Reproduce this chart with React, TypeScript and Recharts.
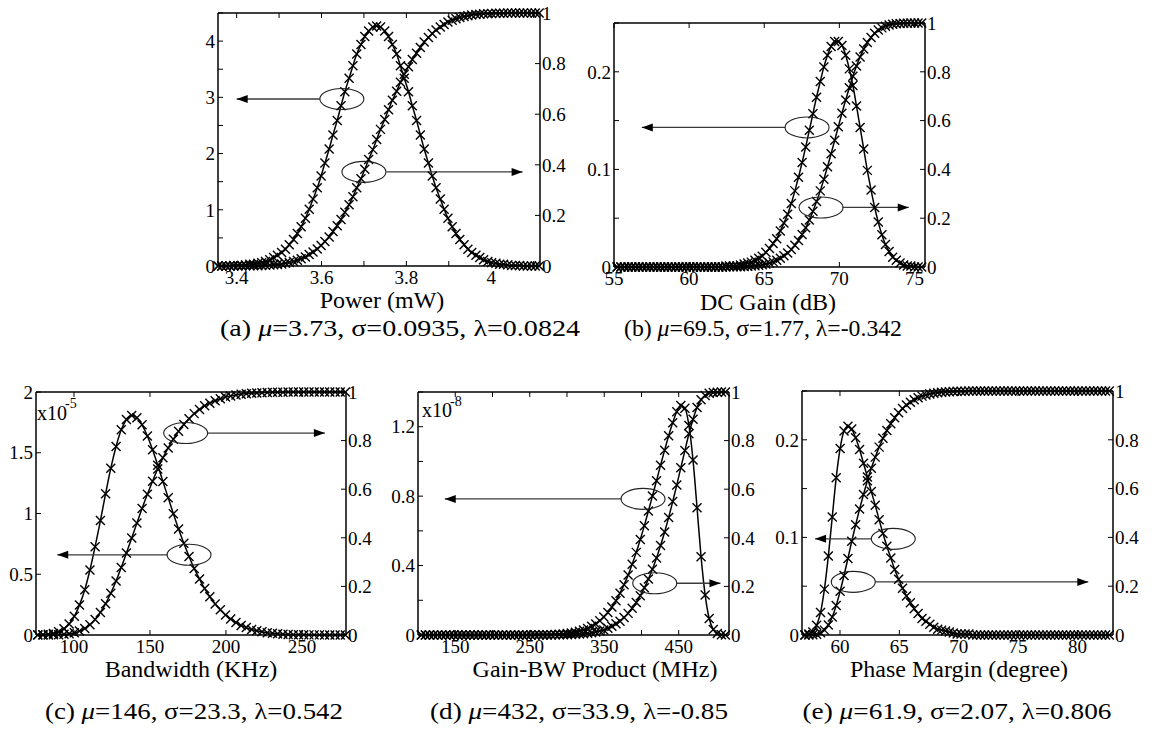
import React from 'react';
import { LineChart, Line, XAxis, YAxis, ReferenceDot, ReferenceLine } from 'recharts';

const FONT = '"Liberation Serif", "Times New Roman", serif';

// ---------- (a) Power ----------
const powerX = [
  3.356, 3.365, 3.375, 3.384, 3.393, 3.403, 3.412, 3.421, 3.431, 3.44,
  3.45, 3.459, 3.468, 3.478, 3.487, 3.496, 3.506, 3.515, 3.524, 3.534,
  3.543, 3.552, 3.562, 3.571, 3.58, 3.59, 3.599, 3.608, 3.618, 3.627,
  3.637, 3.646, 3.655, 3.665, 3.674, 3.683, 3.693, 3.702, 3.711, 3.721,
  3.73, 3.739, 3.749, 3.758, 3.767, 3.777, 3.786, 3.795, 3.805, 3.814,
  3.824, 3.833, 3.842, 3.852, 3.861, 3.87, 3.88, 3.889, 3.898, 3.908,
  3.917, 3.926, 3.936, 3.945, 3.954, 3.964, 3.973, 3.982, 3.992, 4.001,
  4.011, 4.02, 4.029, 4.039, 4.048, 4.057, 4.067, 4.076, 4.085, 4.095,
  4.104, 4.113,
];
const powerPdf = [
  0, 0, 0, 0, 0.01, 0.01, 0.01, 0.02, 0.03, 0.03,
  0.05, 0.06, 0.08, 0.11, 0.15, 0.19, 0.24, 0.3, 0.38, 0.47,
  0.58, 0.7, 0.85, 1.01, 1.19, 1.39, 1.6, 1.83, 2.08, 2.33,
  2.59, 2.85, 3.1, 3.34, 3.56, 3.77, 3.94, 4.08, 4.18, 4.25,
  4.27, 4.25, 4.18, 4.08, 3.94, 3.77, 3.56, 3.34, 3.1, 2.85,
  2.59, 2.33, 2.08, 1.83, 1.6, 1.39, 1.19, 1.01, 0.85, 0.7,
  0.58, 0.47, 0.38, 0.3, 0.24, 0.19, 0.15, 0.11, 0.08, 0.06,
  0.05, 0.03, 0.03, 0.02, 0.01, 0.01, 0.01, 0, 0, 0,
  0, 0,
];
const powerCdf = [
  0, 0, 0, 0, 0, 0, 0, 0.001, 0.001, 0.001,
  0.001, 0.002, 0.003, 0.004, 0.005, 0.006, 0.008, 0.011, 0.014, 0.018,
  0.023, 0.029, 0.036, 0.045, 0.055, 0.067, 0.081, 0.097, 0.115, 0.136,
  0.159, 0.184, 0.212, 0.242, 0.274, 0.309, 0.345, 0.382, 0.421, 0.46,
  0.5, 0.54, 0.579, 0.618, 0.655, 0.691, 0.726, 0.758, 0.788, 0.816,
  0.841, 0.864, 0.885, 0.903, 0.919, 0.933, 0.945, 0.955, 0.964, 0.971,
  0.977, 0.982, 0.986, 0.989, 0.992, 0.994, 0.995, 0.997, 0.997, 0.998,
  0.999, 0.999, 0.999, 1, 1, 1, 1, 1, 1, 1,
  1, 1,
];

// ---------- (b) DC Gain ----------
const gainX = [
  55.21, 55.46, 55.7, 55.94, 56.18, 56.42, 56.66, 56.9, 57.15, 57.39,
  57.63, 57.87, 58.11, 58.35, 58.59, 58.83, 59.08, 59.32, 59.56, 59.8,
  60.04, 60.28, 60.52, 60.76, 61.01, 61.25, 61.49, 61.73, 61.97, 62.21,
  62.45, 62.69, 62.94, 63.18, 63.42, 63.66, 63.9, 64.14, 64.38, 64.63,
  64.87, 65.11, 65.35, 65.59, 65.83, 66.07, 66.31, 66.56, 66.8, 67.04,
  67.28, 67.52, 67.76, 68.0, 68.24, 68.48, 68.73, 68.97, 69.21, 69.45,
  69.69, 69.93, 70.17, 70.42, 70.66, 70.9, 71.14, 71.38, 71.62, 71.86,
  72.11, 72.35, 72.59, 72.83, 73.07, 73.31, 73.55, 73.79, 74.04, 74.28,
  74.52, 74.76, 75.0, 75.24, 75.48,
];
const gainPdf = [
  0, 0, 0, 0, 0, 0, 0, 0, 0, 0,
  0, 0, 0, 0, 0, 0, 0, 0, 0, 0,
  0, 0, 0, 0, 0, 0, 0, 0, 0, 0,
  0.001, 0.001, 0.001, 0.001, 0.002, 0.003, 0.004, 0.005, 0.007, 0.009,
  0.011, 0.015, 0.019, 0.024, 0.029, 0.037, 0.045, 0.054, 0.065, 0.078,
  0.092, 0.107, 0.123, 0.14, 0.157, 0.174, 0.19, 0.205, 0.217, 0.226,
  0.231, 0.231, 0.227, 0.217, 0.203, 0.186, 0.165, 0.143, 0.121, 0.099,
  0.079, 0.061, 0.046, 0.033, 0.023, 0.016, 0.01, 0.007, 0.004, 0.002,
  0.001, 0.001, 0, 0, 0,
];
const gainCdf = [
  0, 0, 0, 0, 0, 0, 0, 0, 0, 0,
  0, 0, 0, 0, 0, 0, 0, 0, 0, 0,
  0, 0, 0, 0, 0, 0, 0, 0, 0, 0,
  0, 0.001, 0.001, 0.001, 0.001, 0.002, 0.003, 0.004, 0.005, 0.007,
  0.009, 0.012, 0.016, 0.021, 0.028, 0.036, 0.046, 0.057, 0.072, 0.089,
  0.109, 0.133, 0.161, 0.193, 0.228, 0.268, 0.312, 0.36, 0.411, 0.464,
  0.519, 0.575, 0.63, 0.684, 0.735, 0.782, 0.824, 0.861, 0.893, 0.92,
  0.941, 0.958, 0.971, 0.98, 0.987, 0.992, 0.995, 0.997, 0.998, 0.999,
  0.999, 1, 1, 1, 1,
];

// ---------- (c) Bandwidth ----------
const bwX = [
  76.2, 79.6, 83.1, 86.5, 89.9, 93.4, 96.8, 100.2, 103.6, 107.1,
  110.5, 113.9, 117.4, 120.8, 124.2, 127.7, 131.1, 134.5, 138.0, 141.4,
  144.8, 148.3, 151.7, 155.1, 158.5, 162.0, 165.4, 168.8, 172.3, 175.7,
  179.1, 182.6, 186.0, 189.4, 192.9, 196.3, 199.7, 203.1, 206.6, 210.0,
  213.4, 216.9, 220.3, 223.7, 227.2, 230.6, 234.0, 237.5, 240.9, 244.3,
  247.8, 251.2, 254.6, 258.0, 261.5, 264.9, 268.3, 271.8, 275.2, 278.6,
];
const bwPdf = [
  0.001, 0.003, 0.006, 0.013, 0.027, 0.051, 0.091, 0.154, 0.246, 0.373,
  0.535, 0.727, 0.942, 1.163, 1.372, 1.552, 1.689, 1.774, 1.806, 1.788,
  1.73, 1.638, 1.524, 1.398, 1.264, 1.129, 0.998, 0.872, 0.755, 0.646,
  0.548, 0.461, 0.382, 0.315, 0.256, 0.207, 0.165, 0.131, 0.102, 0.079,
  0.061, 0.046, 0.035, 0.026, 0.019, 0.014, 0.01, 0.007, 0.005, 0.003,
  0.002, 0.002, 0.001, 0.001, 0.001, 0, 0, 0, 0, 0,
];
const bwCdf = [
  0, 0, 0, 0.001, 0.001, 0.003, 0.005, 0.009, 0.016, 0.027,
  0.042, 0.064, 0.093, 0.129, 0.172, 0.222, 0.278, 0.337, 0.399, 0.461,
  0.521, 0.579, 0.633, 0.683, 0.729, 0.77, 0.806, 0.838, 0.866, 0.89,
  0.911, 0.928, 0.943, 0.954, 0.964, 0.972, 0.979, 0.984, 0.988, 0.991,
  0.993, 0.995, 0.996, 0.997, 0.998, 0.999, 0.999, 0.999, 1, 1,
  1, 1, 1, 1, 1, 1, 1, 1, 1, 1,
];

// ---------- (d) Gain-BW product ----------
const gbwX = [
  104.5, 110.0, 115.4, 120.9, 126.3, 131.8, 137.2, 142.6, 148.1, 153.5,
  159.0, 164.4, 169.9, 175.3, 180.7, 186.2, 191.6, 197.1, 202.5, 207.9,
  213.4, 218.8, 224.3, 229.7, 235.2, 240.6, 246.0, 251.5, 256.9, 262.4,
  267.8, 273.2, 278.7, 284.1, 289.6, 295.0, 300.5, 305.9, 311.3, 316.8,
  322.2, 327.7, 333.1, 338.6, 344.0, 349.4, 354.9, 360.3, 365.8, 371.2,
  376.6, 382.1, 387.5, 393.0, 398.4, 403.9, 409.3, 414.7, 420.2, 425.6,
  431.1, 436.5, 441.9, 447.4, 452.8, 458.3, 463.7, 469.2, 474.6, 480.0,
  485.5, 490.9, 496.4, 501.8, 507.3, 512.7,
];
const gbwPdf = [
  0, 0, 0, 0, 0, 0, 0, 0, 0, 0,
  0, 0, 0, 0, 0, 0, 0, 0, 0, 0,
  0, 0, 0, 0, 0, 0, 0, 0, 0.001, 0.001,
  0.001, 0.001, 0.002, 0.003, 0.004, 0.006, 0.009, 0.012, 0.016, 0.022,
  0.029, 0.038, 0.05, 0.064, 0.082, 0.104, 0.13, 0.162, 0.198, 0.241,
  0.29, 0.345, 0.408, 0.476, 0.55, 0.63, 0.714, 0.801, 0.889, 0.978,
  1.065, 1.148, 1.223, 1.286, 1.322, 1.307, 1.207, 1.008, 0.733, 0.451,
  0.23, 0.095, 0.031, 0.008, 0.002, 0,
];
const gbwCdf = [
  0, 0, 0, 0, 0, 0, 0, 0, 0, 0,
  0, 0, 0, 0, 0, 0, 0, 0, 0, 0,
  0, 0, 0, 0, 0, 0, 0, 0, 0, 0,
  0, 0, 0, 0.001, 0.001, 0.001, 0.001, 0.002, 0.003, 0.004,
  0.005, 0.007, 0.009, 0.012, 0.016, 0.021, 0.028, 0.036, 0.046, 0.057,
  0.072, 0.089, 0.11, 0.134, 0.162, 0.194, 0.23, 0.271, 0.317, 0.368,
  0.424, 0.484, 0.549, 0.617, 0.688, 0.759, 0.828, 0.888, 0.936, 0.968,
  0.986, 0.995, 0.998, 0.999, 1, 1,
];

// ---------- (e) Phase margin ----------
const pmX = [
  57.05, 57.38, 57.71, 58.03, 58.36, 58.69, 59.02, 59.35, 59.68, 60.01,
  60.34, 60.67, 60.99, 61.32, 61.65, 61.98, 62.31, 62.64, 62.97, 63.3,
  63.62, 63.95, 64.28, 64.61, 64.94, 65.27, 65.6, 65.93, 66.25, 66.58,
  66.91, 67.24, 67.57, 67.9, 68.23, 68.56, 68.89, 69.21, 69.54, 69.87,
  70.2, 70.53, 70.86, 71.19, 71.52, 71.84, 72.17, 72.5, 72.83, 73.16,
  73.49, 73.82, 74.15, 74.47, 74.8, 75.13, 75.46, 75.79, 76.12, 76.45,
  76.78, 77.1, 77.43, 77.76, 78.09, 78.42, 78.75, 79.08, 79.41, 79.74,
  80.06, 80.39, 80.72, 81.05, 81.38, 81.71, 82.04, 82.37, 82.69,
];
const pmPdf = [
  0, 0.001, 0.003, 0.01, 0.023, 0.047, 0.081, 0.121, 0.161, 0.191,
  0.209, 0.214, 0.211, 0.202, 0.19, 0.176, 0.162, 0.147, 0.133, 0.118,
  0.104, 0.091, 0.079, 0.067, 0.057, 0.048, 0.04, 0.033, 0.027, 0.022,
  0.017, 0.014, 0.011, 0.008, 0.006, 0.005, 0.004, 0.003, 0.002, 0.001,
  0.001, 0.001, 0.001, 0, 0, 0, 0, 0, 0, 0,
  0, 0, 0, 0, 0, 0, 0, 0, 0, 0,
  0, 0, 0, 0, 0, 0, 0, 0, 0, 0,
  0, 0, 0, 0, 0, 0, 0, 0, 0,
];
const pmCdf = [
  0, 0, 0.001, 0.003, 0.009, 0.02, 0.041, 0.074, 0.121, 0.179,
  0.244, 0.314, 0.384, 0.452, 0.516, 0.576, 0.632, 0.683, 0.729, 0.77,
  0.806, 0.838, 0.866, 0.89, 0.911, 0.928, 0.943, 0.954, 0.964, 0.972,
  0.979, 0.984, 0.988, 0.991, 0.993, 0.995, 0.996, 0.997, 0.998, 0.999,
  0.999, 0.999, 1, 1, 1, 1, 1, 1, 1, 1,
  1, 1, 1, 1, 1, 1, 1, 1, 1, 1,
  1, 1, 1, 1, 1, 1, 1, 1, 1, 1,
  1, 1, 1, 1, 1, 1, 1, 1, 1,
];

// ---------- axis ticks ----------
const cdfTicks = [0, 0.2, 0.4, 0.6, 0.8, 1];

const powerTicks = [3.4, 3.5, 3.6, 3.7, 3.8, 3.9, 4.0, 4.1];
const powerTickLabels = [3.4, 3.6, 3.8, 4];
const powerPdfTicks = [0, 0.5, 1, 1.5, 2, 2.5, 3, 3.5, 4, 4.5];
const powerPdfLabels = [0, 1, 2, 3, 4];

const gainTicks = [55, 60, 65, 70, 75];
const gainPdfTicks = [0, 0.05, 0.1, 0.15, 0.2, 0.25];
const gainPdfLabels = [0, 0.1, 0.2];

const bwTicks = [100, 150, 200, 250];
const bwPdfTicks = [0, 0.5, 1, 1.5, 2];

const gbwTicks = [150, 200, 250, 300, 350, 400, 450, 500];
const gbwTickLabels = [150, 250, 350, 450];
const gbwPdfTicks = [0, 0.2, 0.4, 0.6, 0.8, 1, 1.2, 1.4];
const gbwPdfLabels = [0, 0.4, 0.8, 1.2];

const pmTicks = [60, 65, 70, 75, 80];
const pmPdfTicks = [0, 0.05, 0.1, 0.15, 0.2, 0.25];
const pmPdfLabels = [0, 0.1, 0.2];

// Callouts: ellipse centre (cx, cy) and an arrow from `from` to `to` pointing at the owning axis
type Callout = { cx: number; cy: number; from: number; to: number; axis: 'l' | 'r' };

const powerNotes: Callout[] = [
  { cx: 3.648, cy: 2.97, from: 3.596, to: 3.4, axis: 'l' },
  { cx: 3.7, cy: 0.372, from: 3.753, to: 4.074, axis: 'r' },
];
const gainNotes: Callout[] = [
  { cx: 67.85, cy: 0.143, from: 66.4, to: 56.85, axis: 'l' },
  { cx: 68.78, cy: 0.244, from: 70.22, to: 74.62, axis: 'r' },
];
const bwNotes: Callout[] = [
  { cx: 175.7, cy: 0.66, from: 161.6, to: 89.0, axis: 'l' },
  { cx: 173.5, cy: 0.831, from: 187.7, to: 265.1, axis: 'r' },
];
const gbwNotes: Callout[] = [
  { cx: 402.1, cy: 0.784, from: 373.1, to: 135.9, axis: 'l' },
  { cx: 417.8, cy: 0.213, from: 446.9, to: 506, axis: 'r' },
];
const pmNotes: Callout[] = [
  { cx: 64.49, cy: 0.0985, from: 62.67, to: 57.9, axis: 'l' },
  { cx: 61.12, cy: 0.2176, from: 62.95, to: 80.92, axis: 'r' },
];

const toRows = (xs: number[], pdf: number[], cdf: number[]) =>
  xs.map((x, i) => ({ x, pdf: pdf[i], cdf: cdf[i] }));

const only = (shown: number[] | null) => (v: number) =>
  shown === null || shown.includes(v) ? String(v) : '';

const crossDot = (p: any) => {
  const { cx, cy, index } = p;
  if (cx == null || cy == null) return <g key={`n${index}`} />;
  const s = 4.5;
  return (
    <path
      key={`c${index}`}
      d={`M${cx - s},${cy - s}L${cx + s},${cy + s}M${cx - s},${cy + s}L${cx + s},${cy - s}`}
      stroke="#000"
      strokeWidth={1.4}
      fill="none"
    />
  );
};

const tickText = { fontSize: 19, fontFamily: FONT, fill: '#000' };
const axisLine = { stroke: '#000', strokeWidth: 1.5 };
const tickLine = { stroke: '#000', strokeWidth: 1 };

type Box = { L: number; R: number; T: number; B: number };

type PanelProps = {
  box: Box;
  rows: { x: number; pdf: number; cdf: number }[];
  xDomain: [number, number];
  xTicks: number[];
  xLabels: number[] | null;
  yDomain: [number, number];
  yTicks: number[];
  yLabels: number[] | null;
  notes: Callout[];
};

function Panel({ box, rows, xDomain, xTicks, xLabels, yDomain, yTicks, yLabels, notes }: PanelProps) {
  const w = box.R - box.L + 120;
  const h = box.B - box.T + 50;
  const marks = notes.flatMap((n, i) => {
    const dir = n.to < n.from ? 1 : -1;
    return [
      <ReferenceLine
        key={`s${i}`}
        xAxisId="b"
        yAxisId={n.axis}
        segment={[{ x: n.from, y: n.cy }, { x: n.to, y: n.cy }]}
        stroke="#3a3a3a"
        strokeWidth={1.3}
        ifOverflow="visible"
      />,
      <ReferenceDot
        key={`e${i}`}
        xAxisId="b"
        yAxisId={n.axis}
        x={n.cx}
        y={n.cy}
        r={1}
        ifOverflow="visible"
        shape={(p: any) => (
          <ellipse cx={p.cx} cy={p.cy} rx={22} ry={10.5} fill="none" stroke="#222" strokeWidth={1.1} />
        )}
      />,
      <ReferenceDot
        key={`h${i}`}
        xAxisId="b"
        yAxisId={n.axis}
        x={n.to}
        y={n.cy}
        r={1}
        ifOverflow="visible"
        shape={(p: any) => (
          <polygon
            points={`${p.cx},${p.cy} ${p.cx + dir * 11},${p.cy - 4} ${p.cx + dir * 11},${p.cy + 4}`}
            fill="#000"
          />
        )}
      />,
    ];
  });

  return (
    <div style={{ position: 'absolute', left: box.L - 60, top: box.T - 10, width: w, height: h }}>
      <LineChart width={w} height={h} data={rows} margin={{ top: 0, right: 0, bottom: 0, left: 0 }}>
        <XAxis
          xAxisId="b"
          dataKey="x"
          type="number"
          domain={xDomain}
          ticks={xTicks}
          interval={0}
          tickFormatter={only(xLabels)}
          height={40}
          tickSize={-5}
          tickMargin={10}
          tick={tickText}
          axisLine={axisLine}
          tickLine={tickLine}
        />
        <XAxis
          xAxisId="t"
          orientation="top"
          dataKey="x"
          type="number"
          domain={xDomain}
          ticks={xTicks}
          interval={0}
          tickFormatter={() => ''}
          height={10}
          tickSize={-5}
          tick={tickText}
          axisLine={axisLine}
          tickLine={tickLine}
        />
        <YAxis
          yAxisId="l"
          type="number"
          domain={yDomain}
          ticks={yTicks}
          interval={0}
          tickFormatter={only(yLabels)}
          width={60}
          tickSize={-5}
          tickMargin={8}
          tick={tickText}
          axisLine={axisLine}
          tickLine={tickLine}
        />
        <YAxis
          yAxisId="r"
          orientation="right"
          type="number"
          domain={[0, 1]}
          ticks={cdfTicks}
          interval={0}
          tickFormatter={only(null)}
          width={60}
          tickSize={-5}
          tickMargin={7}
          tick={tickText}
          axisLine={axisLine}
          tickLine={tickLine}
        />
        <Line
          xAxisId="b"
          yAxisId="l"
          dataKey="pdf"
          type="monotone"
          stroke="#000"
          strokeWidth={1.5}
          dot={crossDot}
          activeDot={false}
          isAnimationActive={false}
        />
        <Line
          xAxisId="b"
          yAxisId="r"
          dataKey="cdf"
          type="monotone"
          stroke="#000"
          strokeWidth={1.5}
          dot={crossDot}
          activeDot={false}
          isAnimationActive={false}
        />
        {marks}
      </LineChart>
    </div>
  );
}

type CaptionProps = { x: number; y: number; w?: number; tag: string; mu: string; sigma: string; lambda: string };

function Caption({ x, y, w, tag, mu, sigma, lambda }: CaptionProps) {
  const fit = w ? { textLength: w, lengthAdjust: 'spacingAndGlyphs' as const } : {};
  return (
    <text x={x} y={y} textAnchor="middle" fontSize={23} fontFamily={FONT} fill="#000" {...fit}>
      ({tag}) <tspan fontStyle="italic">μ</tspan>={mu}, σ={sigma}, λ={lambda}
    </text>
  );
}

function Title({ x, y, text }: { x: number; y: number; text: string }) {
  return (
    <text x={x} y={y} textAnchor="middle" fontSize={24} fontFamily={FONT} fill="#000">
      {text}
    </text>
  );
}

export default function App() {
  return (
    <div
      style={{
        position: 'absolute',
        left: 0,
        top: 0,
        width: 1154,
        height: 729,
        background: '#fff',
        overflow: 'hidden',
      }}
    >
      <Panel
        box={{ L: 218, R: 540, T: 13, B: 266 }}
        rows={toRows(powerX, powerPdf, powerCdf)}
        xDomain={[3.356, 4.115]}
        xTicks={powerTicks}
        xLabels={powerTickLabels}
        yDomain={[0, 4.5]}
        yTicks={powerPdfTicks}
        yLabels={powerPdfLabels}
        notes={powerNotes}
      />
      <Panel
        box={{ L: 614, R: 925, T: 23, B: 267 }}
        rows={toRows(gainX, gainPdf, gainCdf)}
        xDomain={[55, 75.7]}
        xTicks={gainTicks}
        xLabels={null}
        yDomain={[0, 0.25]}
        yTicks={gainPdfTicks}
        yLabels={gainPdfLabels}
        notes={gainNotes}
      />
      <Panel
        box={{ L: 36, R: 346, T: 392, B: 635 }}
        rows={toRows(bwX, bwPdf, bwCdf)}
        xDomain={[75, 279]}
        xTicks={bwTicks}
        xLabels={null}
        yDomain={[0, 2]}
        yTicks={bwPdfTicks}
        yLabels={null}
        notes={bwNotes}
      />
      <Panel
        box={{ L: 418, R: 729, T: 392, B: 635 }}
        rows={toRows(gbwX, gbwPdf, gbwCdf)}
        xDomain={[100, 517.5]}
        xTicks={gbwTicks}
        xLabels={gbwTickLabels}
        yDomain={[0, 1.4]}
        yTicks={gbwPdfTicks}
        yLabels={gbwPdfLabels}
        notes={gbwNotes}
      />
      <Panel
        box={{ L: 802, R: 1113, T: 391, B: 635 }}
        rows={toRows(pmX, pmPdf, pmCdf)}
        xDomain={[56.8, 83]}
        xTicks={pmTicks}
        xLabels={null}
        yDomain={[0, 0.25]}
        yTicks={pmPdfTicks}
        yLabels={pmPdfLabels}
        notes={pmNotes}
      />
      <svg
        width={1154}
        height={729}
        style={{ position: 'absolute', left: 0, top: 0, pointerEvents: 'none' }}
      >
        <Title x={382} y={308} text="Power (mW)" />
        <Title x={768} y={310} text="DC Gain (dB)" />
        <Title x={191} y={677} text="Bandwidth (KHz)" />
        <Title x={595} y={677} text="Gain-BW Product (MHz)" />
        <Title x={959} y={677} text="Phase Margin (degree)" />

        <text x={37} y={420} fontSize={20} fontFamily={FONT} fill="#000">x10</text>
        <text x={65} y={408} fontSize={14} fontFamily={FONT} fill="#000">-5</text>
        <text x={422} y={417} fontSize={20} fontFamily={FONT} fill="#000">x10</text>
        <text x={450} y={406} fontSize={14} fontFamily={FONT} fill="#000">-8</text>

        <Caption x={400} y={336} w={360} tag="a" mu="3.73" sigma="0.0935" lambda="0.0824" />
        <Caption x={763} y={336} w={278} tag="b" mu="69.5" sigma="1.77" lambda="-0.342" />
        <Caption x={194} y={719} w={298} tag="c" mu="146" sigma="23.3" lambda="0.542" />
        <Caption x={579} y={719} w={298} tag="d" mu="432" sigma="33.9" lambda="-0.85" />
        <Caption x={957} y={719} w={309} tag="e" mu="61.9" sigma="2.07" lambda="0.806" />
      </svg>
    </div>
  );
}
